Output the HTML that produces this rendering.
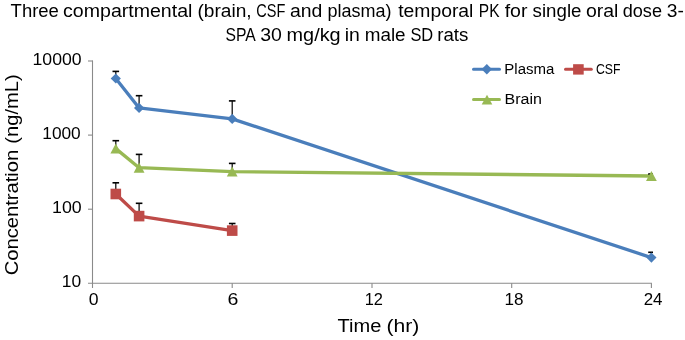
<!DOCTYPE html>
<html><head><meta charset="utf-8">
<style>
html,body{margin:0;padding:0;background:#fff;width:685px;height:340px;overflow:hidden;}
svg{display:block;will-change:transform;}
text{font-family:"Liberation Sans",sans-serif;fill:#000;}
</style></head>
<body>
<svg width="685" height="340" viewBox="0 0 685 340">
<!-- Title -->
<g font-size="18.7">
<text x="10.60" y="16.8" textLength="48.32" lengthAdjust="spacingAndGlyphs">Three</text>
<text x="63.05" y="16.8" textLength="129.38" lengthAdjust="spacingAndGlyphs">compartmental</text>
<text x="197.48" y="16.8" textLength="54.23" lengthAdjust="spacingAndGlyphs">(brain,</text>
<text x="256.22" y="16.8" textLength="29.07" lengthAdjust="spacingAndGlyphs">CSF</text>
<text x="290.06" y="16.8" textLength="32.37" lengthAdjust="spacingAndGlyphs">and</text>
<text x="327.44" y="16.8" textLength="64.01" lengthAdjust="spacingAndGlyphs">plasma)</text>
<text x="398.20" y="16.8" textLength="75.24" lengthAdjust="spacingAndGlyphs">temporal</text>
<text x="478.87" y="16.8" textLength="20.68" lengthAdjust="spacingAndGlyphs">PK</text>
<text x="504.70" y="16.8" textLength="22.80" lengthAdjust="spacingAndGlyphs">for</text>
<text x="532.60" y="16.8" textLength="48.83" lengthAdjust="spacingAndGlyphs">single</text>
<text x="585.96" y="16.8" textLength="32.46" lengthAdjust="spacingAndGlyphs">oral</text>
<text x="622.73" y="16.8" textLength="39.28" lengthAdjust="spacingAndGlyphs">dose</text>
<text x="666.87" y="16.8" textLength="17.07" lengthAdjust="spacingAndGlyphs">3-</text>
<text x="225.46" y="41.3" textLength="30.25" lengthAdjust="spacingAndGlyphs">SPA</text>
<text x="260.26" y="41.3" textLength="21.67" lengthAdjust="spacingAndGlyphs">30</text>
<text x="286.54" y="41.3" textLength="54.11" lengthAdjust="spacingAndGlyphs">mg/kg</text>
<text x="344.66" y="41.3" textLength="15.11" lengthAdjust="spacingAndGlyphs">in</text>
<text x="364.69" y="41.3" textLength="40.93" lengthAdjust="spacingAndGlyphs">male</text>
<text x="410.42" y="41.3" textLength="22.83" lengthAdjust="spacingAndGlyphs">SD</text>
<text x="437.20" y="41.3" textLength="31.16" lengthAdjust="spacingAndGlyphs">rats</text>
</g>

<!-- Axes -->
<g stroke="#8a8a8a" stroke-width="1.1" fill="none">
<line x1="92.5" y1="60.4" x2="92.5" y2="288"/>
<line x1="88" y1="61" x2="92.5" y2="61"/>
<line x1="88" y1="135.1" x2="92.5" y2="135.1"/>
<line x1="88" y1="209.2" x2="92.5" y2="209.2"/>
<line x1="88" y1="283.3" x2="651.9" y2="283.3"/>
<line x1="232.2" y1="283.3" x2="232.2" y2="288"/>
<line x1="372" y1="283.3" x2="372" y2="288"/>
<line x1="511.7" y1="283.3" x2="511.7" y2="288"/>
<line x1="651.4" y1="283.3" x2="651.4" y2="288"/>
</g>

<!-- Y tick labels -->
<g font-size="17.2">
<text x="32.57" y="64.8" textLength="49.04" lengthAdjust="spacingAndGlyphs">10000</text>
<text x="42.29" y="138.8" textLength="38.46" lengthAdjust="spacingAndGlyphs">1000</text>
<text x="52.07" y="212.8" textLength="29.64" lengthAdjust="spacingAndGlyphs">100</text>
<text x="61.79" y="286.8" textLength="19.34" lengthAdjust="spacingAndGlyphs">10</text>
</g>
<!-- X tick labels -->
<g font-size="17.2">
<text x="88.80" y="305.2" textLength="9.78" lengthAdjust="spacingAndGlyphs">0</text>
<text x="227.56" y="305.2" textLength="10.88" lengthAdjust="spacingAndGlyphs">6</text>
<text x="364.74" y="305.2" textLength="18.27" lengthAdjust="spacingAndGlyphs">12</text>
<text x="504.51" y="305.2" textLength="19.02" lengthAdjust="spacingAndGlyphs">18</text>
<text x="643.72" y="305.2" textLength="18.81" lengthAdjust="spacingAndGlyphs">24</text>
</g>

<!-- Axis titles -->
<g font-size="18.8">
<text x="337.60" y="331.8" textLength="43.82" lengthAdjust="spacingAndGlyphs">Time</text>
<text x="386.47" y="331.8" textLength="32.90" lengthAdjust="spacingAndGlyphs">(hr)</text>
</g>
<g font-size="19" transform="translate(17.8,0) rotate(-90)">
<text x="-275.36" y="0" textLength="125.64" lengthAdjust="spacingAndGlyphs">Concentration</text>
<text x="-143.66" y="0" textLength="69.36" lengthAdjust="spacingAndGlyphs">(ng/mL)</text>
</g>

<!-- Series lines -->
<g fill="none" stroke-width="3.3" stroke-linejoin="round" stroke-linecap="round">
<polyline stroke="#4A7EBB" points="115.8,78.5 139.1,107.9 232.2,118.9 651.4,257.6"/>
<polyline stroke="#98B954" points="115.8,148.6 139.1,167.7 232.2,171.6 651.4,176.0"/>
<polyline stroke="#BE4B48" points="115.8,194.0 139.1,216.1 232.2,230.6"/>
</g>
<!-- Error bars -->
<g stroke="#000" fill="none">
<g stroke-width="1.2">
<line x1="115.8" y1="71.4" x2="115.8" y2="78.5"/>
<line x1="139.1" y1="95.7" x2="139.1" y2="107.9"/>
<line x1="232.2" y1="100.9" x2="232.2" y2="118.9"/>
<line x1="651.4" y1="252.3" x2="651.4" y2="257.6"/>
<line x1="115.8" y1="140.7" x2="115.8" y2="148.6"/>
<line x1="139.1" y1="154.4" x2="139.1" y2="167.7"/>
<line x1="232.2" y1="163.4" x2="232.2" y2="171.6"/>
<line x1="651.4" y1="174.0" x2="651.4" y2="176.0"/>
<line x1="115.8" y1="182.8" x2="115.8" y2="194.0"/>
<line x1="139.1" y1="203.3" x2="139.1" y2="216.1"/>
<line x1="232.2" y1="223.5" x2="232.2" y2="230.6"/>
</g>
<g stroke-width="1.6">
<line x1="112.5" y1="71.4" x2="119.1" y2="71.4"/>
<line x1="135.8" y1="95.7" x2="142.4" y2="95.7"/>
<line x1="228.9" y1="100.9" x2="235.5" y2="100.9"/>
<line x1="648.2" y1="252.3" x2="653.0" y2="252.3"/>
<line x1="112.5" y1="140.7" x2="119.1" y2="140.7"/>
<line x1="135.8" y1="154.4" x2="142.4" y2="154.4"/>
<line x1="228.9" y1="163.4" x2="235.5" y2="163.4"/>
<line x1="648.2" y1="174.0" x2="653.0" y2="174.0"/>
<line x1="112.5" y1="182.8" x2="119.1" y2="182.8"/>
<line x1="135.8" y1="203.3" x2="142.4" y2="203.3"/>
<line x1="228.9" y1="223.5" x2="235.5" y2="223.5"/>
</g>
</g>
<!-- Markers -->
<g fill="#4A7EBB">
<path d="M115.8 73.4 L120.9 78.5 L115.8 83.6 L110.7 78.5 Z"/>
<path d="M139.1 102.8 L144.2 107.9 L139.1 113.0 L134.0 107.9 Z"/>
<path d="M232.2 113.8 L237.3 118.9 L232.2 124.0 L227.1 118.9 Z"/>
<path d="M651.4 252.5 L656.5 257.6 L651.4 262.7 L646.3 257.6 Z"/>
</g>
<g fill="#98B954">
<path d="M115.8 143.5 L121.2 153.6 L110.4 153.6 Z"/>
<path d="M139.1 162.6 L144.5 172.7 L133.7 172.7 Z"/>
<path d="M232.2 166.5 L237.6 176.6 L226.8 176.6 Z"/>
<path d="M651.4 170.9 L656.8 181.0 L646.0 181.0 Z"/>
</g>
<g fill="#BE4B48">
<rect x="110.5" y="188.7" width="10.6" height="10.6"/>
<rect x="133.8" y="210.8" width="10.6" height="10.6"/>
<rect x="226.9" y="225.3" width="10.6" height="10.6"/>
</g>

<!-- Legend -->
<g stroke-width="3" stroke-linecap="round">
<line x1="473.5" y1="69.2" x2="499.5" y2="69.2" stroke="#4A7EBB"/>
<line x1="565.5" y1="69.2" x2="591.3" y2="69.2" stroke="#BE4B48"/>
<line x1="473.5" y1="99.4" x2="499.5" y2="99.4" stroke="#98B954"/>
</g>
<path fill="#4A7EBB" d="M486.8 64.1 L492 69.3 L486.8 74.5 L481.6 69.3 Z"/>
<rect fill="#BE4B48" x="573.1" y="64.2" width="10.6" height="10.4"/>
<path fill="#98B954" d="M487 94.8 L492.3 104.4 L481.7 104.4 Z"/>
<g font-size="15.4">
<text x="504.33" y="73.8" textLength="50.02" lengthAdjust="spacingAndGlyphs">Plasma</text>
<text x="596.00" y="73.7" textLength="24.53" lengthAdjust="spacingAndGlyphs">CSF</text>
<text x="504.56" y="103.8" textLength="37.42" lengthAdjust="spacingAndGlyphs">Brain</text>
</g>
</svg>
</body></html>
